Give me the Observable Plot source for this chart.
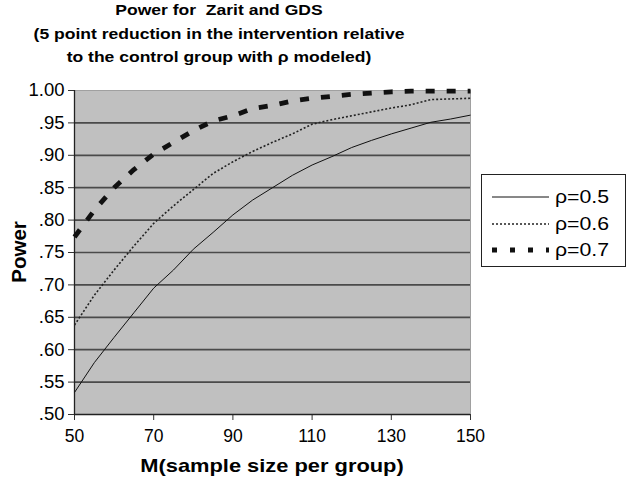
<!DOCTYPE html>
<html>
<head>
<meta charset="utf-8">
<script src="https://cdn.jsdelivr.net/npm/d3@7"></script>
<script src="https://cdn.jsdelivr.net/npm/@observablehq/plot@0.6"></script>
<style>
  html, body { margin: 0; padding: 0; background: white; }
  body { width: 627px; height: 477px; position: relative; overflow: hidden; font-family: "Liberation Sans", Arial, sans-serif; }
  #chart { position: absolute; left: 0; top: 0; }
  .title { position: absolute; left: 19px; width: 400px; top: -2px; text-align: center; font-weight: bold; font-size: 15.5px; line-height: 23.5px; transform: scaleX(1.13); transform-origin: 200px 0; }
  .xlab { position: absolute; left: 72px; width: 400px; top: 455px; text-align: center; font-weight: bold; font-size: 19px; transform: scaleX(1.15); transform-origin: 200px 0; }
  .ylab { position: absolute; left: 19px; top: 252px; transform: translate(-50%, -50%) rotate(-90deg); font-weight: bold; font-size: 20.5px; white-space: nowrap; }
  .legend { position: absolute; left: 481px; top: 174px; width: 143px; height: 91px; border: 1px solid #222; background: white; }
  .row { position: absolute; left: 10px; height: 20px; display: flex; align-items: center; font-size: 18.5px; }
  .row svg { margin-right: 6px; }
  .row span { display: inline-block; transform: scaleX(1.15); transform-origin: 0 50%; }
</style>
</head>
<body>
<div id="chart"></div>
<div class="title">Power for&nbsp; Zarit and GDS<br>(5 point reduction in the intervention relative<br>to the control group with ρ modeled)</div>
<div class="ylab">Power</div>
<div class="xlab">M(sample size per group)</div>
<div class="legend" id="legend"></div>
<script>
// sample size per group
const M = [50, 55, 60, 65, 70, 75, 80, 85, 90, 95, 100, 105, 110, 115, 120, 125, 130, 135, 140, 145, 150];
// power, rho = 0.5
const rho05 = [0.534, 0.580, 0.619, 0.657, 0.695, 0.723, 0.755, 0.781, 0.808, 0.831, 0.850, 0.869, 0.885, 0.898, 0.912, 0.923, 0.933, 0.942, 0.951, 0.956, 0.962];
// power, rho = 0.6
const rho06 = [0.638, 0.684, 0.723, 0.760, 0.795, 0.822, 0.847, 0.872, 0.890, 0.906, 0.920, 0.933, 0.948, 0.955, 0.961, 0.967, 0.973, 0.978, 0.986, 0.987, 0.988];
// power, rho = 0.7
const rho07 = [0.774, 0.815, 0.850, 0.878, 0.902, 0.920, 0.938, 0.953, 0.961, 0.972, 0.977, 0.984, 0.988, 0.991, 0.994, 0.996, 0.998, 0.999, 0.999, 0.999, 0.999];
const seriesNames = ["ρ=0.5", "ρ=0.6", "ρ=0.7"];
const xTicks = [50, 70, 90, 110, 130, 150];
const yTicks = [0.50, 0.55, 0.60, 0.65, 0.70, 0.75, 0.80, 0.85, 0.90, 0.95, 1.00];

const styles = [
  {stroke: "#111", strokeWidth: 1, strokeDasharray: null},
  {stroke: "#222", strokeWidth: 1.6, strokeDasharray: "2,2"},
  {stroke: "#111", strokeWidth: 4.8, strokeDasharray: "9,12"}
];
const allSeries = [rho05, rho06, rho07];
const toRows = (vals, name) => M.map((m, i) => ({m, p: vals[i], s: name}));

const fmt = d => d === 1 ? "1.00" : d3.format(".2f")(d).replace(/^0/, "");

const chart = Plot.plot({
  width: 627,
  height: 477,
  marginLeft: 74,
  marginRight: 157,
  marginTop: 90,
  marginBottom: 63,
  style: {fontFamily: "Liberation Sans, Arial, sans-serif", fontSize: "17px", background: "transparent", color: "black"},
  x: {domain: [50, 150]},
  y: {domain: [0.5, 1]},
  marks: [
    Plot.frame({fill: "#c0c0c0", stroke: "#a0a0a0"}),
    Plot.gridY(yTicks.filter(t => t > 0.5 && t < 1), {stroke: "#4a4a4a", strokeOpacity: 1, strokeWidth: 1.7}),
    Plot.axisY(yTicks, {tickFormat: fmt, tickSize: 6, tickPadding: 4, label: null, stroke: "#333", fontSize: 18.5}),
    Plot.axisX(xTicks, {tickSize: 6, tickPadding: 9, label: null, stroke: "#333", fontSize: 17.5}),
    Plot.ruleX([50], {stroke: "#222", strokeWidth: 1.3}),
    Plot.ruleY([0.5], {stroke: "#222", strokeWidth: 1.3}),
    ...allSeries.map((vals, k) => Plot.line(toRows(vals, seriesNames[k]), {
      x: "m", y: "p",
      stroke: styles[k].stroke, strokeWidth: styles[k].strokeWidth,
      strokeDasharray: styles[k].strokeDasharray, strokeLinecap: "butt"
    }))
  ]
});
document.getElementById("chart").append(chart);

// legend
const legend = d3.select("#legend");
const legendDash = ["", "2,2", "5,13"];
seriesNames.forEach((name, k) => {
  const row = legend.append("div").attr("class", "row").style("top", (12 + k * 26.5) + "px");
  const svg = row.append("svg").attr("width", 57).attr("height", 20);
  svg.append("line").attr("x1", 0).attr("x2", 57).attr("y1", 10).attr("y2", 10)
    .attr("stroke", styles[k].stroke).attr("stroke-width", styles[k].strokeWidth)
    .attr("stroke-dasharray", legendDash[k] || null);
  row.append("span").text(name);
});
</script>
</body>
</html>
